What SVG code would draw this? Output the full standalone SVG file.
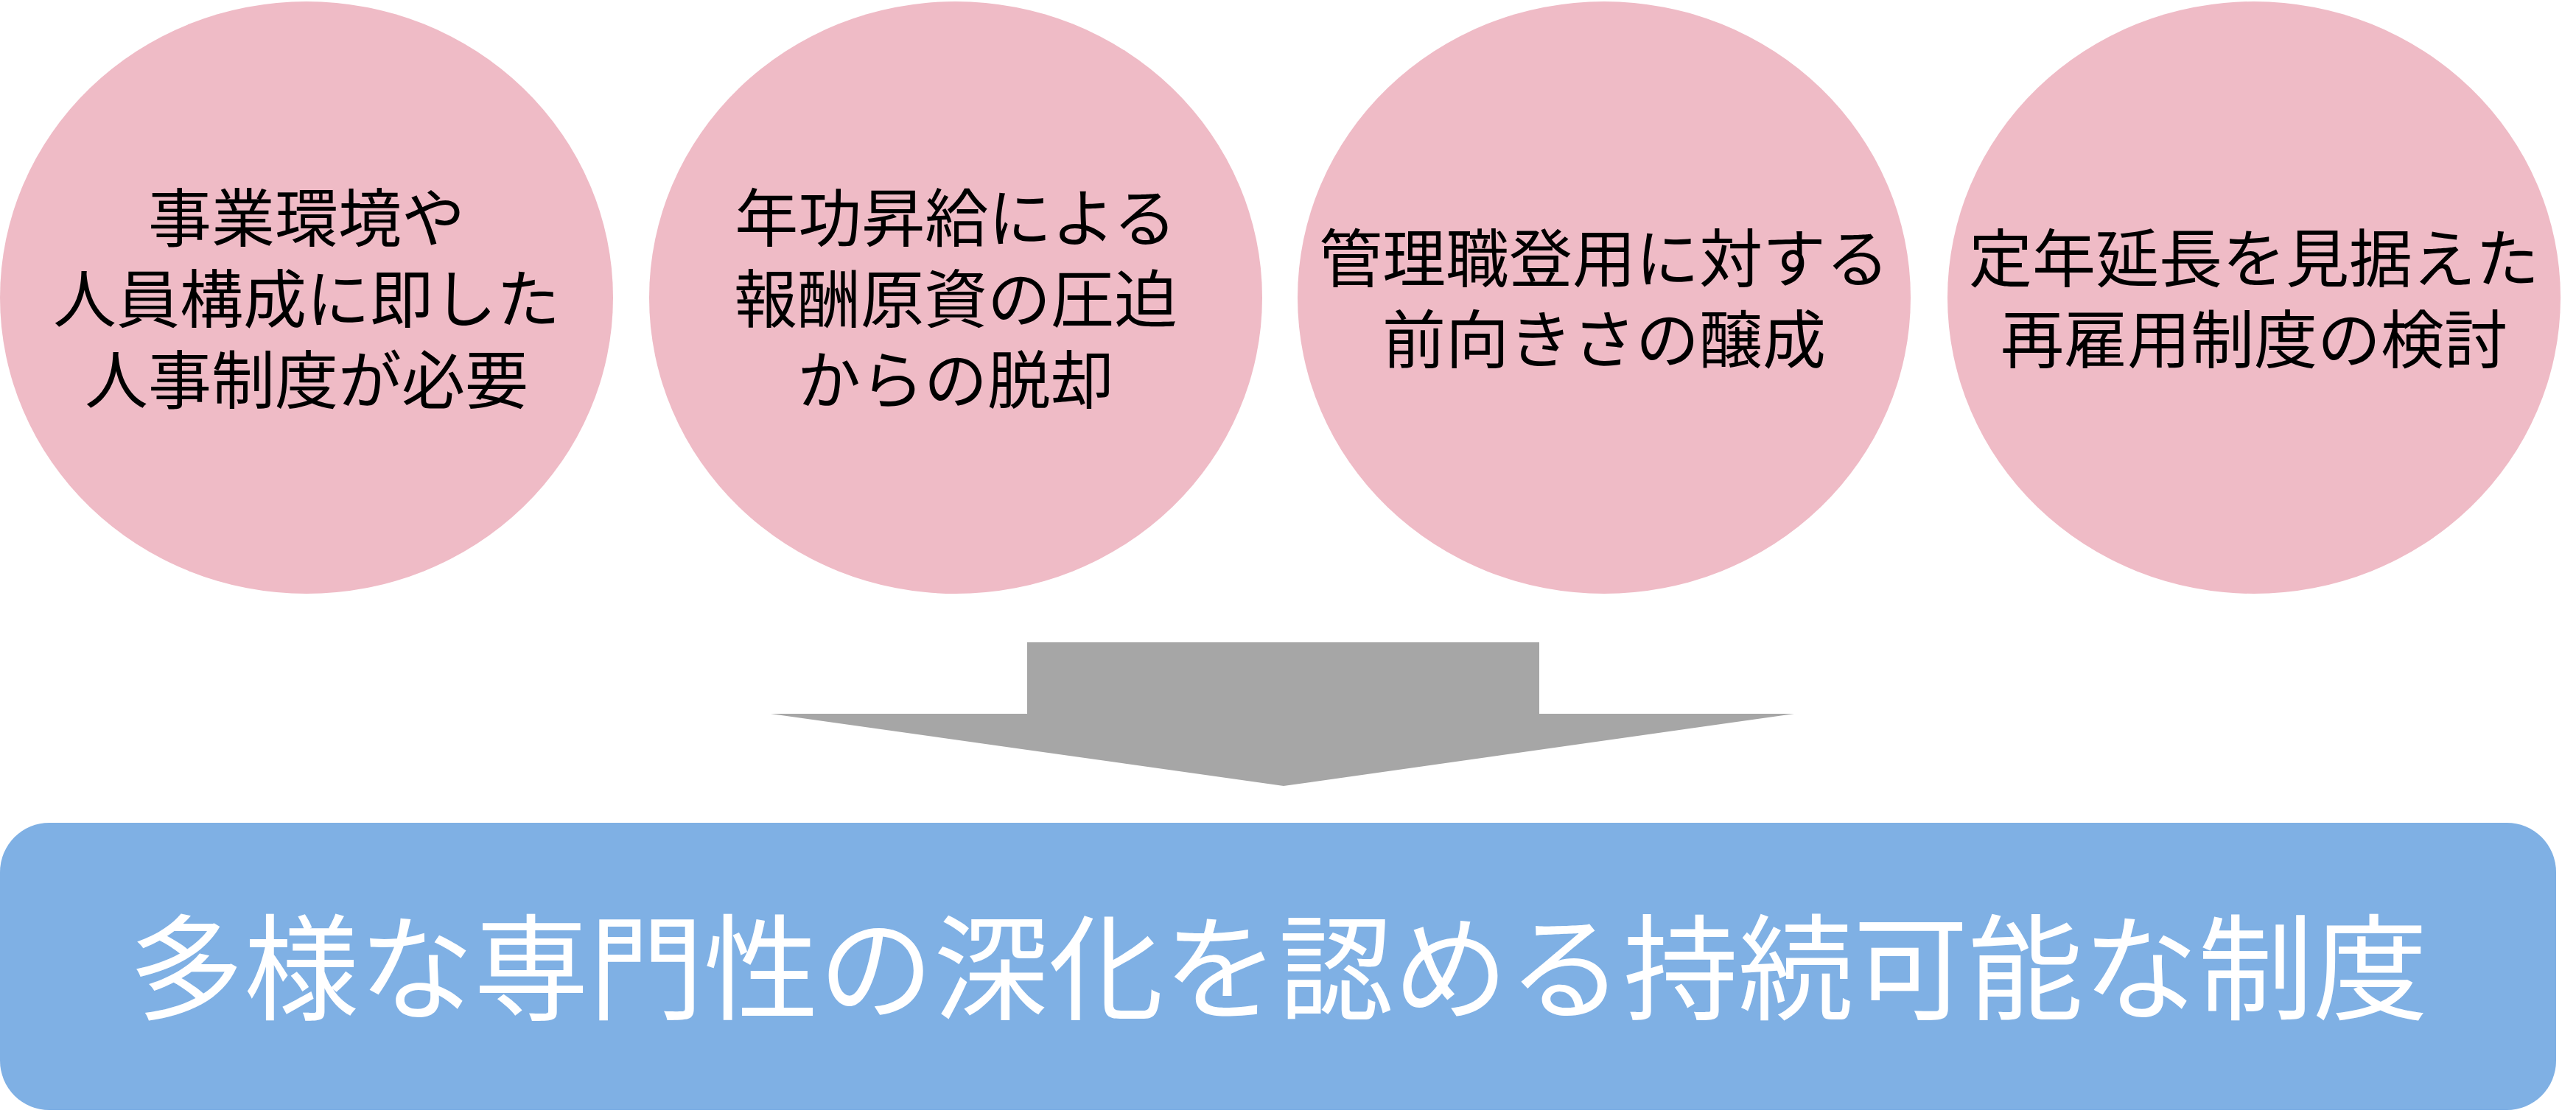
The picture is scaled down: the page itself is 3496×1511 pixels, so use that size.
<svg xmlns="http://www.w3.org/2000/svg" width="3496" height="1511" viewBox="0 0 3496 1511">
  <style>
    .bubble { fill: #EFBBC6; }
    .btxt { font-family: "Noto Sans CJK JP", "Noto Sans", sans-serif; font-size: 86px; fill: #000000; text-anchor: middle; }
    .result { fill: #7FB0E4; }
    .rtxt { font-family: "Noto Sans CJK JP", "Noto Sans", sans-serif; font-size: 156px; fill: #FFFFFF; text-anchor: middle; }
    .arrow { fill: #A6A6A6; }
  </style>
  <rect x="0" y="0" width="3496" height="1511" fill="#FFFFFF"/>
  <g id="node-1">
    <ellipse class="bubble" cx="416" cy="404" rx="416" ry="402"/>
    <text class="btxt" x="416" y="328">事業環境や</text>
    <text class="btxt" x="416" y="438">人員構成に即した</text>
    <text class="btxt" x="416" y="548">人事制度が必要</text>
  </g>
  <g id="node-2">
    <ellipse class="bubble" cx="1297" cy="404" rx="416" ry="402"/>
    <text class="btxt" x="1297" y="328">年功昇給による</text>
    <text class="btxt" x="1297" y="438">報酬原資の圧迫</text>
    <text class="btxt" x="1297" y="548">からの脱却</text>
  </g>
  <g id="node-3">
    <ellipse class="bubble" cx="2177" cy="404" rx="416" ry="402"/>
    <text class="btxt" x="2177" y="383">管理職登用に対する</text>
    <text class="btxt" x="2177" y="493">前向きさの醸成</text>
  </g>
  <g id="node-4">
    <ellipse class="bubble" cx="3059" cy="404" rx="416" ry="402"/>
    <text class="btxt" x="3059" y="383">定年延長を見据えた</text>
    <text class="btxt" x="3059" y="493">再雇用制度の検討</text>
  </g>
  <g id="connectors">
    <polygon class="arrow" points="1394,872 2089,872 2089,969 2435,969 1742,1067 1046,969 1394,969"/>
  </g>
  <g id="node-result">
    <rect class="result" x="0" y="1117" width="3469" height="390" rx="67" ry="67"/>
    <text class="rtxt" x="1735" y="1372">多様な専門性の深化を認める持続可能な制度</text>
  </g>
</svg>
